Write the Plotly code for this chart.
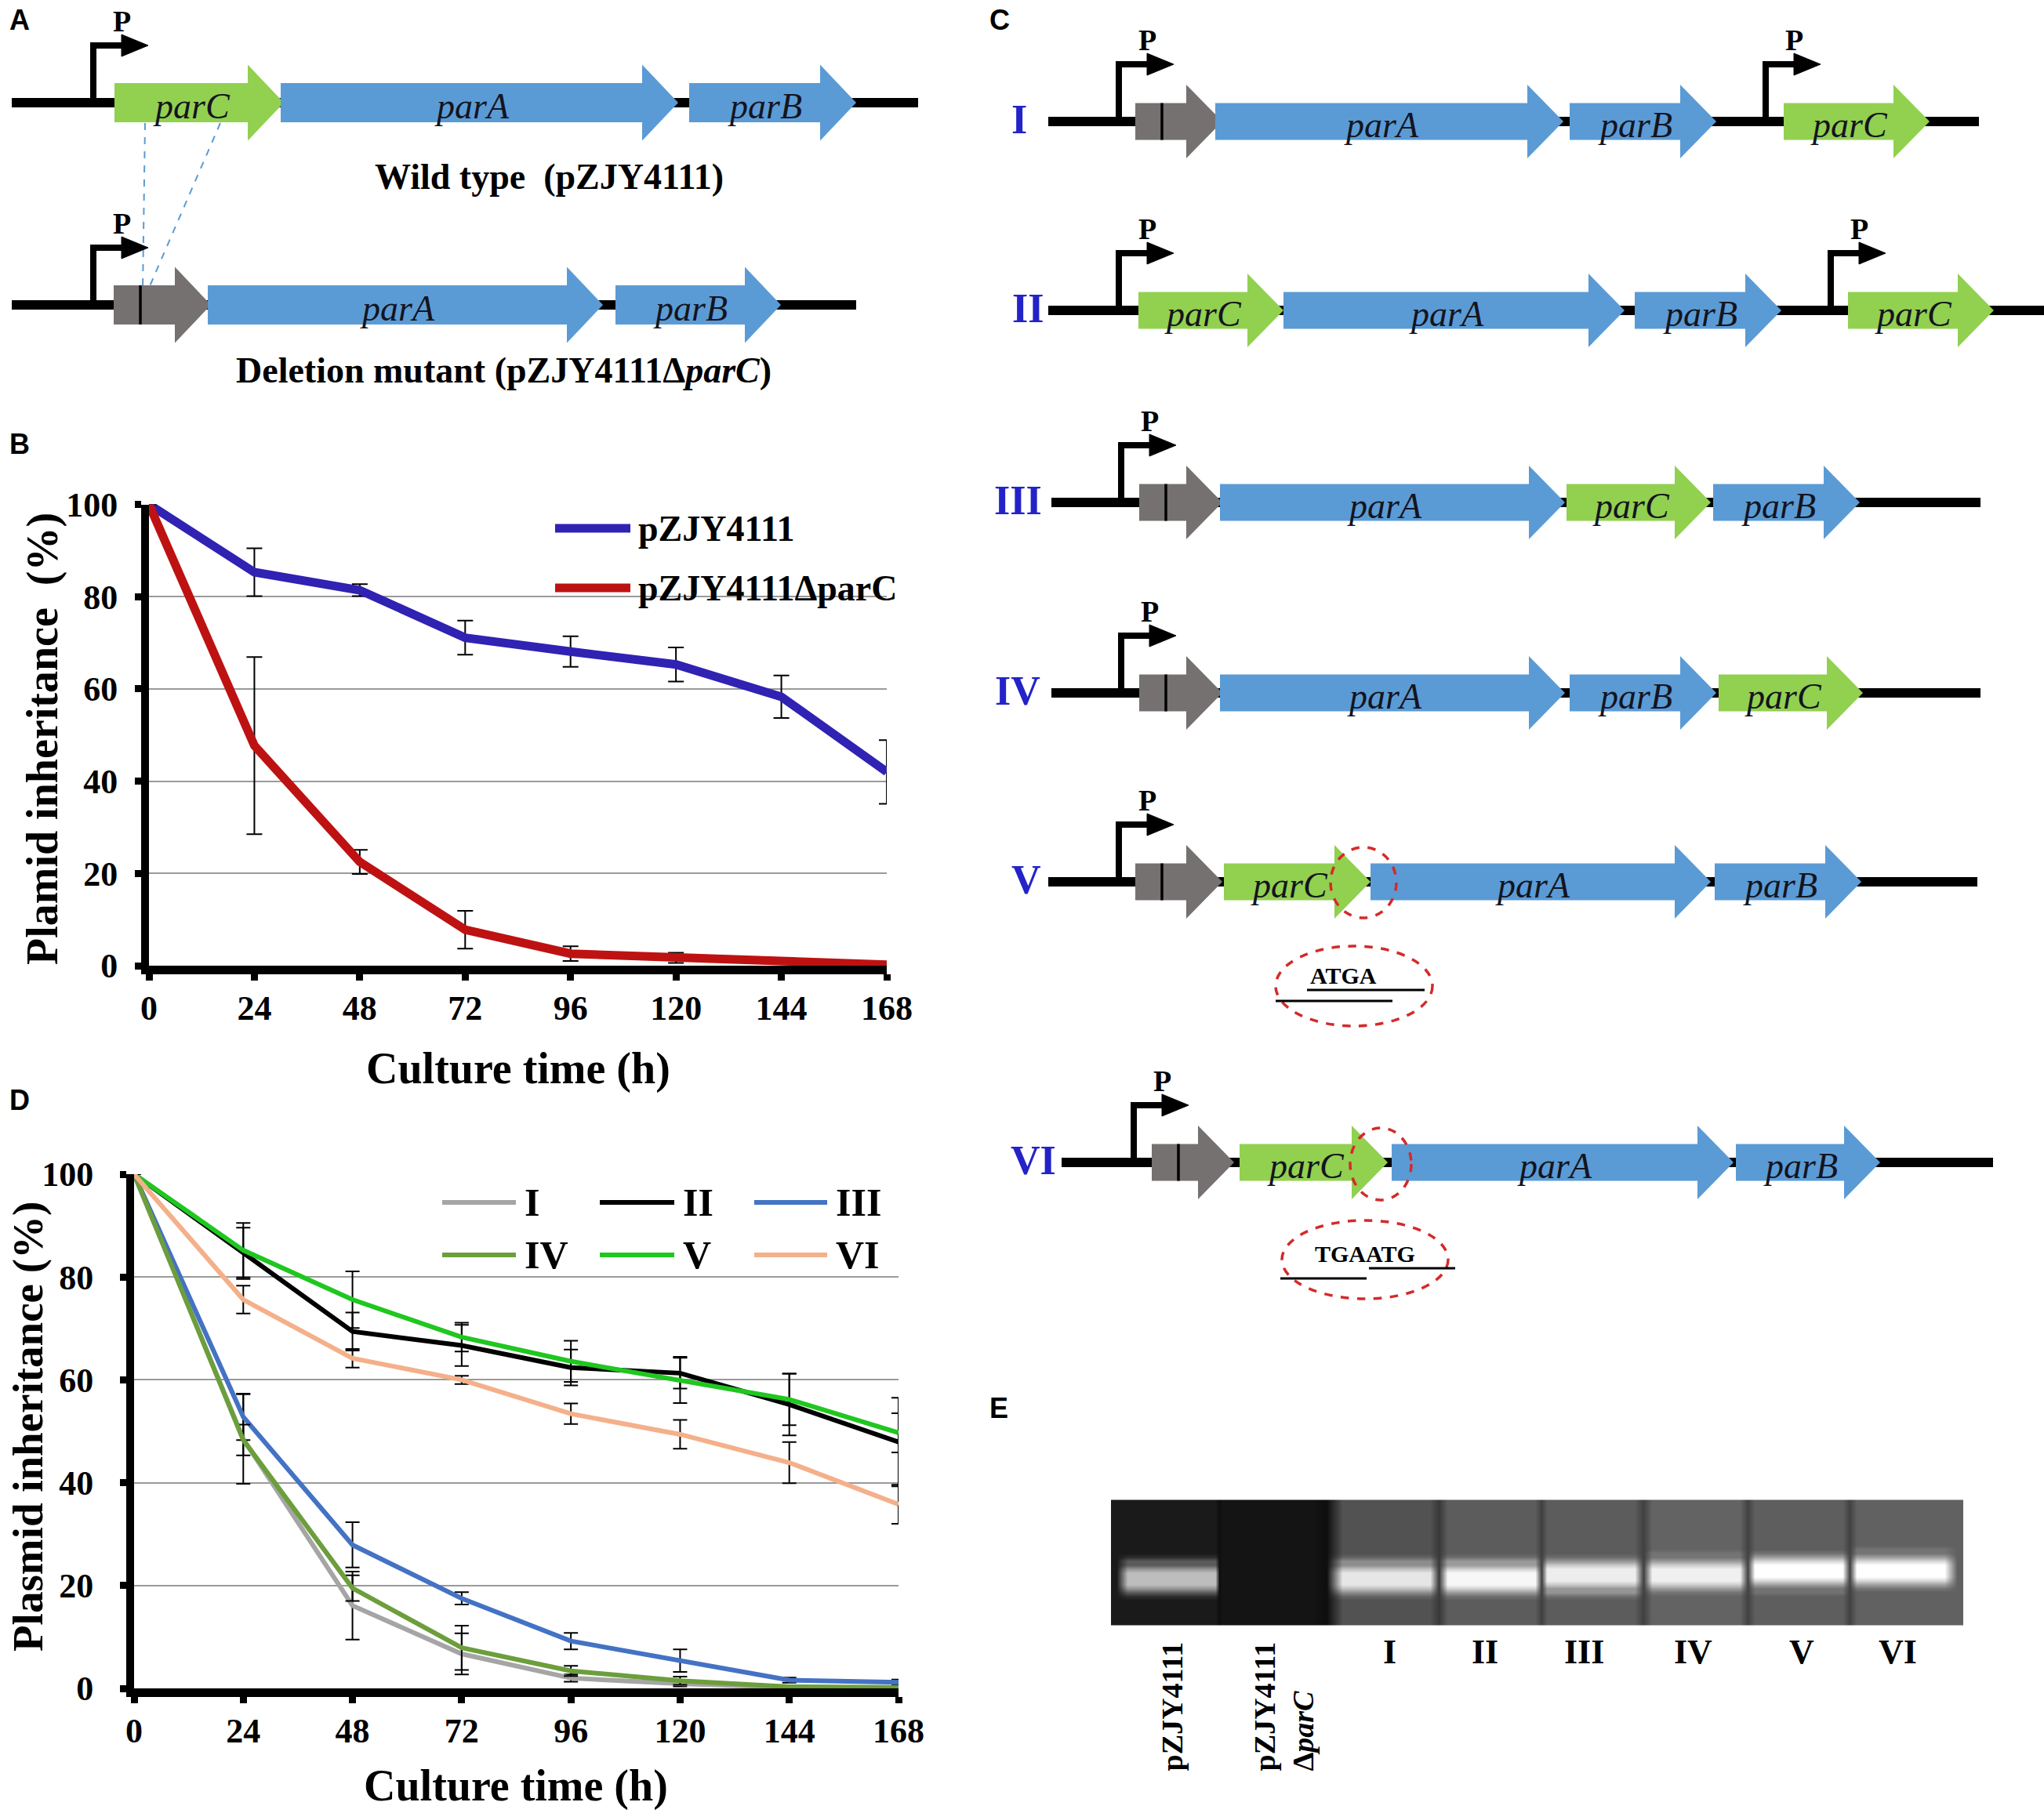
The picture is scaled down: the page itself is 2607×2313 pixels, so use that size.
import plotly.graph_objects as go

W, H = 2607, 2313
SERIF = "Liberation Serif"
SANS = "Liberation Sans"

# ---------------- panel B data ----------------
hours = [0, 24, 48, 72, 96, 120, 144, 168]
wt_mean = [100, 85.3, 81.4, 71.1, 68.1, 65.3, 58.3, 42.0]
wt_err = [0, 5.2, 1.3, 3.7, 3.3, 3.7, 4.6, 6.9]
del_mean = [100, 47.7, 22.5, 7.8, 2.6, 1.7, 0.7, 0.2]
del_err = [0, 19.2, 2.6, 4.1, 1.6, 1.1, 0, 0]

# ---------------- panel D data ----------------
d_names = ["I", "II", "III", "IV", "V", "VI"]
d_I = [100, 48.5, 16.1, 6.7, 2.0, 0.9, 0.2, 0.1]
d_II = [100, 84.6, 69.4, 66.7, 62.4, 61.3, 55.2, 47.9]
d_III = [100, 52.8, 27.9, 17.5, 9.2, 5.4, 1.6, 1.2]
d_IV = [100, 48.3, 19.5, 7.9, 3.4, 1.5, 0.3, 0.2]
d_V = [100, 85.2, 75.6, 68.3, 63.6, 60.0, 56.2, 49.7]
d_VI = [100, 75.6, 64.2, 60.0, 53.4, 49.4, 43.9, 35.8]
d_I_err = [0, 8.7, 6.6, 4.0, 0.7, 0.5, 0, 0]
d_II_err = [0, 5.0, 3.7, 4.0, 3.5, 3.0, 6.0, 8.6]
d_III_err = [0, 4.5, 4.4, 1.2, 1.6, 2.2, 0.5, 0.5]
d_IV_err = [0, 3.0, 2.5, 4.3, 1.0, 0.8, 0, 0]
d_V_err = [0, 5.3, 5.5, 2.8, 4.0, 4.5, 5.0, 3.8]
d_VI_err = [0, 2.7, 1.8, 0.8, 2.0, 2.8, 4.0, 3.8]
d_colors = ["#A5A5A5", "#000000", "#4472C4", "#6C9E3C", "#1FC71F", "#F4B08A"]

# ---------------- gene maps (gene, start, tip) ----------------
wild_type = [("parC", 146, 362), ("parA", 358, 865), ("parB", 879, 1092)]
deletion = [("stub", 145, 269), ("parA", 265, 769), ("parB", 785, 996)]
c_I = [("stub", 1448, 1559), ("parA", 1550, 1994), ("parB", 2002, 2189), ("parC", 2275, 2461)]
c_II = [("parC", 1452, 1637), ("parA", 1637, 2072), ("parB", 2085, 2272), ("parC", 2357, 2543)]
c_III = [("stub", 1453, 1559), ("parA", 1556, 1996), ("parC", 1998, 2182), ("parB", 2185, 2372)]
c_IV = [("stub", 1453, 1559), ("parA", 1556, 1996), ("parB", 2002, 2189), ("parC", 2192, 2376)]
c_V = [("stub", 1448, 1559), ("parC", 1561, 1748), ("parA", 1748, 2182), ("parB", 2187, 2374)]
c_VI = [("stub", 1469, 1574), ("parC", 1581, 1770), ("parA", 1775, 2211), ("parB", 2214, 2398)]

# ---------------- panel E gel ----------------
gel_lanes = ["pZJY4111", "pZJY4111ΔparC", "I", "II", "III", "IV", "V", "VI"]
band_intensity = [0.74, 0.08, 0.9, 0.97, 0.93, 0.94, 1.0, 1.0]
lane_background = [0.1, 0.08, 0.32, 0.36, 0.36, 0.39, 0.37, 0.38]

GREEN, BLUE, GRAY = "#92D050", "#5B9BD5", "#767171"
gene_colors = {"parA": BLUE, "parB": BLUE, "parC": GREEN, "stub": GRAY}

fig = go.Figure()
shapes, notes = [], []


def canvas_text(x, y, s, size, color="black", bold=True, family=SERIF, angle=0,
                xanchor="center", yanchor="middle", align="center"):
    notes.append(dict(x=x, y=y, xref="x3", yref="y3", text=s, showarrow=False,
                      textangle=angle, xanchor=xanchor, yanchor=yanchor, align=align,
                      font=dict(family=family, size=size, color=color,
                                weight="bold" if bold else "normal")))


def line(x0, y0, x1, y1, color="black", width=3, dash="solid", layer="above"):
    shapes.append(dict(type="line", xref="x3", yref="y3", x0=x0, y0=y0, x1=x1, y1=y1,
                       line=dict(color=color, width=width, dash=dash), layer=layer))


rows = [
    dict(genes=wild_type, y=131, x0=15, x1=1171, prom=[119], body=50, head=97),
    dict(genes=deletion, y=389, x0=15, x1=1092, prom=[119], body=50, head=97),
    dict(genes=c_I, y=155, x0=1337, x1=2524, prom=[1427, 2252], body=47, head=94, tag=("I", 1300)),
    dict(genes=c_II, y=396, x0=1337, x1=2607, prom=[1427, 2335], body=47, head=94, tag=("II", 1311)),
    dict(genes=c_III, y=641, x0=1341, x1=2526, prom=[1430], body=47, head=94, tag=("III", 1298)),
    dict(genes=c_IV, y=884, x0=1341, x1=2526, prom=[1430], body=47, head=94, tag=("IV", 1298)),
    dict(genes=c_V, y=1125, x0=1337, x1=2522, prom=[1427], body=47, head=94, tag=("V", 1309)),
    dict(genes=c_VI, y=1483, x0=1354, x1=2542, prom=[1446], body=47, head=94, tag=("VI", 1318)),
]

HEAD = 46
for r in rows:
    yc = r["y"]
    line(r["x0"], yc, r["x1"], yc, width=12, layer="below")
    for px in r["prom"]:
        top = yc - 73
        shapes.append(dict(type="path", xref="x3", yref="y3", layer="below",
                           path=f"M{px},{yc} L{px},{top} L{px + 38},{top}",
                           line=dict(color="black", width=8), fillcolor="rgba(0,0,0,0)"))
        shapes.append(dict(type="path", xref="x3", yref="y3", layer="below",
                           path=f"M{px + 36},{top - 14} L{px + 70},{top} L{px + 36},{top + 14} Z",
                           line=dict(color="black", width=1), fillcolor="black"))
        canvas_text(px + 36, top - 31, "P", 38)
    for name, x0, x1 in r["genes"]:
        xb = x1 - HEAD
        b, h = r["body"] / 2, r["head"] / 2
        fig.add_trace(go.Scatter(
            x=[x0, xb, xb, x1, xb, xb, x0, x0],
            y=[yc - b, yc - b, yc - h, yc, yc + h, yc + b, yc + b, yc - b],
            fill="toself", fillcolor=gene_colors[name], mode="lines",
            line=dict(width=0, color=gene_colors[name]),
            xaxis="x3", yaxis="y3", hoverinfo="skip", showlegend=False))
        if name == "stub":
            line(x0 + 34, yc - b, x0 + 34, yc + b, width=3.5)
        else:
            canvas_text((x0 + x1) / 2 - 10, yc + 4, f"<i>{name}</i>", 46, color="#14141E", bold=False)
    if "tag" in r:
        canvas_text(r["tag"][1], yc - 3, r["tag"][0], 52, color="#2323C8")

# panel A extras
line(185, 157, 182, 372, color=BLUE, width=2, dash="dash")
line(281, 157, 188, 372, color=BLUE, width=2, dash="dash")
canvas_text(700, 225, "Wild type\u00a0 (pZJY4111)", 46)
canvas_text(642, 472, "Deletion mutant (pZJY4111Δ<i>parC</i>)", 46)

# panel C junction marks
RED = "#D42A2A"
for cx, cy, rx, ry in [(1739, 1126, 42, 45), (1761, 1485, 39, 46),
                       (1727, 1258, 100, 51), (1741, 1607, 106, 50)]:
    shapes.append(dict(type="circle", xref="x3", yref="y3", x0=cx - rx, x1=cx + rx,
                       y0=cy - ry, y1=cy + ry, line=dict(color=RED, width=3.5, dash="dash")))
canvas_text(1713, 1244, "ATGA", 30)
line(1667, 1263, 1817, 1263)
line(1627, 1277, 1776, 1277)
canvas_text(1741, 1599, "TGAATG", 30)
line(1746, 1618, 1856, 1618)
line(1633, 1631, 1743, 1631)

# panel E gel as heatmap
lane_x = [1494, 1615, 1768, 1902, 2029, 2163, 2294, 2424]
band_y = [2012, 2012, 2012, 2012, 2010, 2008, 2004, 2003]
gx, gcol = [1424], [("edge", 0)]
for i, c in enumerate(lane_x):
    for dx in (-56, -24, 24, 56):
        gx.append(c + dx)
        gcol.append(("lane", i))
    if i < len(lane_x) - 1:
        gx.append((c + lane_x[i + 1]) / 2)
        gcol.append(("gap", i))
gx.append(2496)
gcol.append(("edge", 7))
gy = list(range(1916, 2072, 5))
z = []
for y in gy:
    row = []
    for kind, i in gcol:
        bg = lane_background[i]
        if kind == "lane":
            d = abs(y - band_y[i])
            w = 1.0 if d <= 10 else (0.75 if d <= 15 else (0.4 if d <= 21 else (0.12 if d <= 27 else 0.0)))
            row.append(bg + (band_intensity[i] - bg) * w)
        elif kind == "gap":
            row.append(min(bg, lane_background[i + 1]) * 0.7)
        else:
            row.append(bg)
    z.append(row)
fig.add_trace(go.Heatmap(x=gx, y=gy, z=z, zmin=0, zmax=1, zsmooth="best",
                         colorscale=[[0, "#000000"], [1, "#FFFFFF"]], showscale=False,
                         xaxis="x3", yaxis="y3", hoverinfo="skip"))
canvas_text(1494, 2262, "pZJY4111", 38, angle=-90, yanchor="bottom")
canvas_text(1637, 2262, "pZJY4111<br>Δ<i>parC</i>", 38, angle=-90, yanchor="bottom", align="left")
for lab, x in zip(gel_lanes[2:], [1772, 1894, 2020, 2159, 2298, 2420]):
    canvas_text(x, 2107, lab, 44)

# ---------------- panel B traces ----------------
for mean, err, col in [(wt_mean, wt_err, "#3022B2"), (del_mean, del_err, "#BE1212")]:
    fig.add_trace(go.Scatter(
        x=hours, y=mean, mode="lines", line=dict(color=col, width=11),
        error_y=dict(type="data", array=err, color="black", thickness=2, width=10),
        xaxis="x", yaxis="y", showlegend=False))
for y, lab, col in [(674, "pZJY4111", "#3022B2"), (750, "pZJY4111ΔparC", "#BE1212")]:
    line(708, y, 804, y, color=col, width=11)
    canvas_text(812, y, lab, 46, xanchor="left")

# ---------------- panel D traces ----------------
d_series = [d_I, d_II, d_III, d_IV, d_V, d_VI]
d_errs = [d_I_err, d_II_err, d_III_err, d_IV_err, d_V_err, d_VI_err]
for vals, err, col in zip(d_series, d_errs, d_colors):
    fig.add_trace(go.Scatter(
        x=hours, y=vals, mode="lines", line=dict(color=col, width=6),
        error_y=dict(type="data", array=err, color="black", thickness=2, width=9),
        xaxis="x2", yaxis="y2", showlegend=False))
leg_cols = [(564, 658), (765, 860), (962, 1055)]
for k, (lab, col) in enumerate(zip(d_names, d_colors)):
    lx0, lx1 = leg_cols[k % 3]
    ly = 1534 if k < 3 else 1601
    line(lx0, ly, lx1, ly, color=col, width=6)
    canvas_text(lx1 + 9, ly, lab, 50, xanchor="left")

# axis titles and panel letters
canvas_text(54, 943, "Plamid inheritance\u00a0 (%)", 56, angle=-90)
canvas_text(661, 1363, "Culture time (h)", 56)
canvas_text(35, 1820, "Plasmid inheritance (%)", 55, angle=-90)
canvas_text(658, 2278, "Culture time (h)", 56)
for lab, x, y in [("A", 25, 25), ("B", 25, 566), ("C", 1275, 25), ("D", 25, 1403), ("E", 1274, 1796)]:
    canvas_text(x, y, lab, 36, family=SANS)

tickfont = dict(family=SERIF, size=44, color="black", weight="bold")
common = dict(showline=True, linecolor="black", ticks="outside",
              tickcolor="black", tickwidth=9, ticklen=8, tickfont=tickfont,
              zeroline=False, fixedrange=True, automargin=False)
xcommon = dict(range=[0, 168], tickvals=hours, showgrid=False, linewidth=11,
               ticklabelstandoff=-3, **common)
ycommon = dict(range=[0, 100], dtick=20, showgrid=True, gridcolor="#9A9A9A", gridwidth=1.8,
               linewidth=10, **common)

fig.update_layout(
    width=W, height=H, margin=dict(l=0, r=0, t=0, b=0, pad=0, autoexpand=False),
    paper_bgcolor="white", plot_bgcolor="rgba(0,0,0,0)", showlegend=False,
    xaxis=dict(domain=[190 / W, 1131 / W], anchor="y", **xcommon),
    yaxis=dict(domain=[1 - 1232 / H, 1 - 643.5 / H], anchor="x", ticklabelstandoff=13, **ycommon),
    xaxis2=dict(domain=[171 / W, 1146 / W], anchor="y2", **xcommon),
    yaxis2=dict(domain=[1 - 2154 / H, 1 - 1498 / H], anchor="x2", ticklabelstandoff=25, **ycommon),
    xaxis3=dict(domain=[0, 1], range=[0, W], visible=False, anchor="y3",
                fixedrange=True, automargin=False),
    yaxis3=dict(domain=[0, 1], range=[H, 0], visible=False, anchor="x3",
                fixedrange=True, automargin=False),
    shapes=shapes, annotations=notes,
)

# the page's default 8px body margin would shift the figure off the window edge
fig.write_html("out.html", config={"displayModeBar": False},
               post_script="document.body.style.margin='0';")
